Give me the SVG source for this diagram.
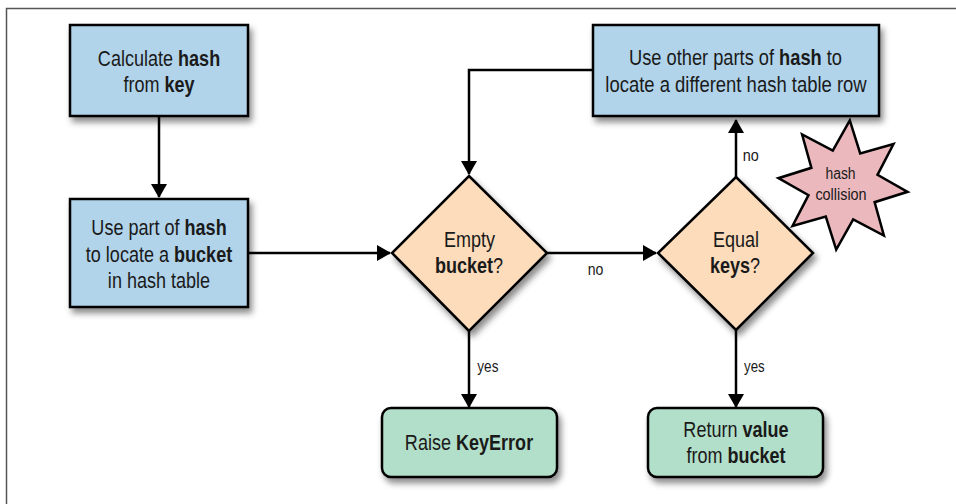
<svg xmlns="http://www.w3.org/2000/svg" width="956" height="504" viewBox="0 0 956 504">
  <defs>
    <filter id="shadow" x="-20%" y="-20%" width="140%" height="150%">
      <feDropShadow dx="3" dy="5" stdDeviation="3" flood-color="#000" flood-opacity="0.45"/>
    </filter>
    <marker id="arrow" viewBox="0 0 14 16" refX="13" refY="8" markerWidth="14" markerHeight="16" markerUnits="userSpaceOnUse" orient="auto">
      <path d="M0,0 L14,8 L0,16 Z" fill="#000"/>
    </marker>
  </defs>
  <style>
    .box { fill: #b1d4ea; stroke: #000; stroke-width: 2.5; }
    .dia { fill: #fcdcba; stroke: #000; stroke-width: 2.5; }
    .end { fill: #b2dfc9; stroke: #000; stroke-width: 2.5; }
    .star { fill: #ebb9bd; stroke: #000; stroke-width: 2.5; stroke-linejoin: miter; }
    .t { font-family: "Liberation Sans", Arial, sans-serif; font-size: 22px; fill: #1a1a1a; text-anchor: middle; }
    .s { font-family: "Liberation Sans", Arial, sans-serif; font-size: 16px; fill: #1a1a1a; }
    .c { text-anchor: middle; }
    .b { font-weight: bold; }
    .conn { fill: none; stroke: #000; stroke-width: 2.5; }
    .frame { fill: none; stroke: #555; stroke-width: 1.5; }
  </style>
  <rect width="956" height="504" fill="#fff"/>
  <path class="frame" d="M6.5,504 L6.5,8.5 L956,8.5"/>

  <g id="connectors">
    <path class="conn" d="M159,116 L159,197" marker-end="url(#arrow)"/>
    <path class="conn" d="M248,253 L390,253" marker-end="url(#arrow)"/>
    <path class="conn" d="M547,253 L656,253" marker-end="url(#arrow)"/>
    <path class="conn" d="M736,177 L736,120" marker-end="url(#arrow)"/>
    <path class="conn" d="M593,70 L469,70 L469,174" marker-end="url(#arrow)"/>
    <path class="conn" d="M469,331 L469,407" marker-end="url(#arrow)"/>
    <path class="conn" d="M736,330 L736,407" marker-end="url(#arrow)"/>
    <text class="s" transform="translate(587.7,275) scale(0.88,1)">no</text>
    <text class="s" transform="translate(742.7,161) scale(0.9,1)">no</text>
    <text class="s" transform="translate(477.3,372) scale(0.85,1)">yes</text>
    <text class="s" transform="translate(744,372) scale(0.83,1)">yes</text>
  </g>

  <g id="calc-hash">
    <rect class="box" x="70" y="25" width="178" height="91" filter="url(#shadow)"/>
    <text class="t" transform="translate(159,66) scale(0.82,1)">Calculate <tspan class="b">hash</tspan></text>
    <text class="t" transform="translate(159,92) scale(0.82,1)">from <tspan class="b">key</tspan></text>
  </g>

  <g id="locate-bucket">
    <rect class="box" x="70" y="199" width="178" height="108" filter="url(#shadow)"/>
    <text class="t" transform="translate(159,235) scale(0.82,1)">Use part of <tspan class="b">hash</tspan></text>
    <text class="t" transform="translate(159,261.5) scale(0.82,1)">to locate a <tspan class="b">bucket</tspan></text>
    <text class="t" transform="translate(159,287.5) scale(0.82,1)">in hash table</text>
  </g>

  <g id="empty-bucket">
    <polygon class="dia" points="469,176 547,253 469,331 392,253" filter="url(#shadow)"/>
    <text class="t" transform="translate(469.5,247.3) scale(0.82,1)">Empty</text>
    <text class="t" transform="translate(469,273.3) scale(0.82,1)"><tspan class="b">bucket</tspan>?</text>
  </g>

  <g id="equal-keys">
    <polygon class="dia" points="736,177 813,253 736,330 658,253" filter="url(#shadow)"/>
    <text class="t" transform="translate(736,247.3) scale(0.82,1)">Equal</text>
    <text class="t" transform="translate(735,272.7) scale(0.82,1)"><tspan class="b">keys</tspan>?</text>
  </g>

  <g id="other-parts">
    <rect class="box" x="593" y="25" width="286" height="91" filter="url(#shadow)"/>
    <text class="t" transform="translate(735.5,65) scale(0.83,1)">Use other parts of <tspan class="b">hash</tspan> to</text>
    <text class="t" transform="translate(736,91.7) scale(0.84,1)">locate a different hash table row</text>
  </g>

  <g id="hash-collision">
    <polygon class="star" points="849.8,120.4 860.2,153.4 893.5,144.1 877.5,174.8 907.6,191.8 874.6,202.2 883.9,235.5 853.2,219.5 836.2,249.6 825.8,216.6 792.5,225.9 808.5,195.2 778.4,178.2 811.4,167.8 802.1,134.5 832.8,150.5"/>
    <text class="s c" transform="translate(840.5,179) scale(0.87,1)">hash</text>
    <text class="s c" transform="translate(841,200) scale(0.9,1)">collision</text>
  </g>

  <g id="raise-keyerror">
    <rect class="end" x="382" y="408" width="175" height="69" rx="9" filter="url(#shadow)"/>
    <text class="t" transform="translate(469,450) scale(0.82,1)">Raise <tspan class="b">KeyError</tspan></text>
  </g>

  <g id="return-value">
    <rect class="end" x="648" y="408" width="175" height="69" rx="9" filter="url(#shadow)"/>
    <text class="t" transform="translate(736,436.7) scale(0.82,1)">Return <tspan class="b">value</tspan></text>
    <text class="t" transform="translate(736,463.3) scale(0.82,1)">from <tspan class="b">bucket</tspan></text>
  </g>
</svg>
